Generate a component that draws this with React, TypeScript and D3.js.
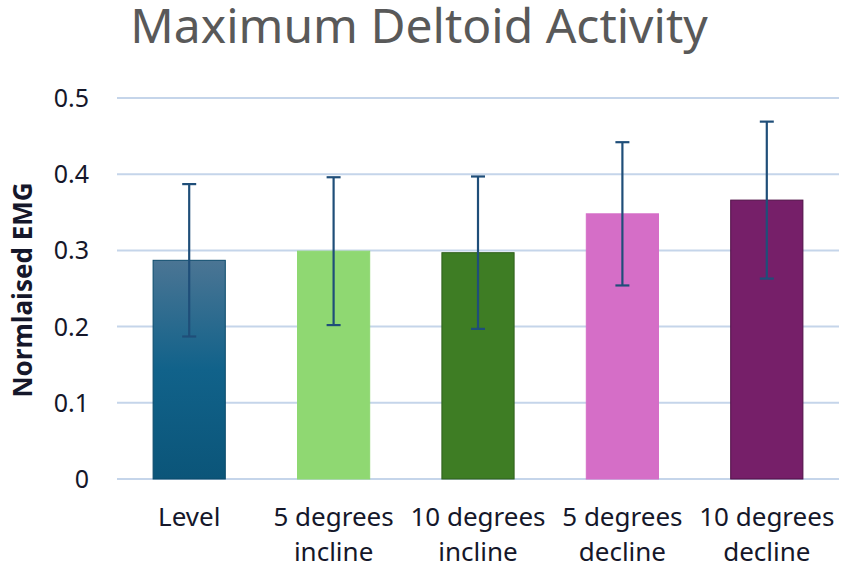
import React from 'react';
import * as d3 from 'd3';

// chart data
const categories = ['Level', '5 degrees incline', '10 degrees incline', '5 degrees decline', '10 degrees decline'];
const labelLines = [['Level'], ['5 degrees', 'incline'], ['10 degrees', 'incline'], ['5 degrees', 'decline'], ['10 degrees', 'decline']];
const means = [0.287, 0.299, 0.297, 0.348, 0.366];
const errors = [0.1, 0.097, 0.1, 0.094, 0.103];
const yTicks = [0, 0.1, 0.2, 0.3, 0.4, 0.5];

const fills = ['url(#levelGrad)', '#8fd872', '#3e7d24', '#d56ec7', '#761f69'];
const strokes = ['#0b4a6b', '#8fd872', '#2f5f1c', '#d56ec7', '#4f1046'];

const W = 851;
const H = 577;
const font = "'Noto Sans', 'Open Sans', sans-serif";

const App = () => {
  const x = d3.scaleBand().domain(categories).range([117, 839]).paddingInner(0.5).paddingOuter(0.25);
  const y = d3.scaleLinear().domain([0, 0.5]).range([479, 98]);
  const bw = x.bandwidth();

  return (
    <svg width={W} height={H} style={{ position: 'absolute', left: 0, top: 0, background: '#fff' }}>
      <defs>
        <linearGradient id="levelGrad" x1="0" y1="0" x2="0" y2="1">
          <stop offset="0" stopColor="#4b7594" />
          <stop offset="0.5" stopColor="#11628a" />
          <stop offset="1" stopColor="#0b5579" />
        </linearGradient>
      </defs>

      <text x={419} y={43} textAnchor="middle" fontFamily={font} fontSize={48} fill="#595959">
        Maximum Deltoid Activity
      </text>

      {/* gridlines */}
      {yTicks.map((t) => (
        <line key={t} x1={117} x2={839} y1={y(t)} y2={y(t)} stroke="#c5d5ea" strokeWidth={2} />
      ))}

      {/* y tick labels */}
      {yTicks.map((t) => (
        <text key={'l' + t} x={89} y={y(t)} dy="0.36em" textAnchor="end" fontFamily={font} fontSize={25} fill="#15172a">
          {d3.format('')(t)}
        </text>
      ))}

      <text
        transform={`translate(32, 290) rotate(-90)`}
        textAnchor="middle"
        fontFamily={font}
        fontSize={26}
        fontWeight="bold"
        fill="#15172a"
      >
        Normlaised EMG
      </text>

      {/* bars */}
      {categories.map((c, i) => (
        <rect
          key={c}
          x={x(c)}
          y={y(means[i])}
          width={bw}
          height={y(0) - y(means[i])}
          fill={fills[i]}
          stroke={strokes[i]}
          strokeWidth={1}
        />
      ))}

      {/* error bars */}
      {categories.map((c, i) => {
        const cx = (x(c) ?? 0) + bw / 2;
        const top = y(means[i] + errors[i]);
        const bot = y(means[i] - errors[i]);
        return (
          <g key={'e' + c} stroke="#1f4e79" strokeWidth={2.2}>
            <line x1={cx} x2={cx} y1={top} y2={bot} />
            <line x1={cx - 7} x2={cx + 7} y1={top} y2={top} />
            <line x1={cx - 7} x2={cx + 7} y1={bot} y2={bot} />
          </g>
        );
      })}

      {/* x labels */}
      {categories.map((c, i) => (
        <text key={'x' + c} x={(x(c) ?? 0) + bw / 2} textAnchor="middle" fontFamily={font} fontSize={26} fill="#15172a">
          {labelLines[i].map((ln, j) => (
            <tspan key={j} x={(x(c) ?? 0) + bw / 2} y={526 + j * 35}>
              {ln}
            </tspan>
          ))}
        </text>
      ))}
    </svg>
  );
};

export default App;
